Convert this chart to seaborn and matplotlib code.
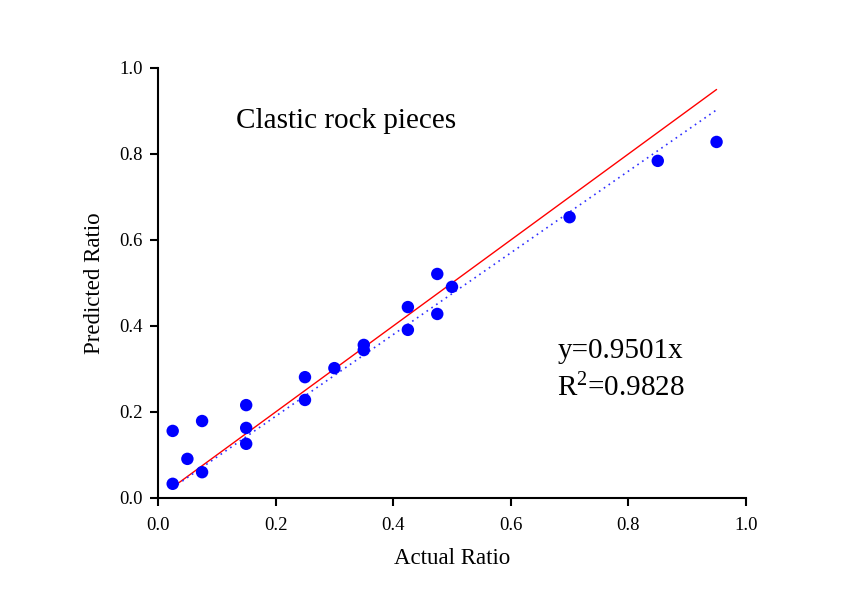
import matplotlib
matplotlib.use("Agg")
import matplotlib.pyplot as plt
import seaborn as sns
import numpy as np
import pandas as pd

actual = [0.025, 0.025, 0.05, 0.075, 0.075, 0.15, 0.15, 0.15, 0.25, 0.25, 0.30,
          0.35, 0.35, 0.425, 0.425, 0.475, 0.475, 0.50, 0.70, 0.85, 0.95]
predicted = [0.156, 0.033, 0.091, 0.179, 0.060, 0.216, 0.163, 0.126, 0.281, 0.228, 0.302,
             0.356, 0.344, 0.444, 0.391, 0.521, 0.428, 0.491, 0.653, 0.784, 0.828]
slope = 0.9501
r2 = 0.9828
ticks = [0.0, 0.2, 0.4, 0.6, 0.8, 1.0]

sns.set_style("ticks")
plt.rcParams['font.family'] = ['Liberation Serif', 'DejaVu Serif']
plt.rcParams['text.color'] = 'black'
plt.rcParams['axes.labelcolor'] = 'black'
plt.rcParams['mathtext.fontset'] = 'custom'
plt.rcParams['mathtext.rm'] = 'Liberation Serif'
plt.rcParams['mathtext.it'] = 'Liberation Serif:italic'

fig = plt.figure(figsize=(8.54, 6.0), dpi=100)
ax = fig.add_axes([0.185, 0.17, 0.6885, 0.7167])

df = pd.DataFrame({"Actual Ratio": actual, "Predicted Ratio": predicted})
xr = np.array([min(actual), max(actual)])
lines = pd.DataFrame({"x": xr, "ideal": xr, "fit": slope * xr})

sns.lineplot(data=lines, x="x", y="ideal", ax=ax, color="#ff0000", lw=1.0)
sns.lineplot(data=lines, x="x", y="fit", ax=ax, color="#3030ff", lw=1.2, linestyle=(0, (1, 2.5)))
sns.scatterplot(data=df, x="Actual Ratio", y="Predicted Ratio", ax=ax, color="#0000ff",
                s=80, edgecolor="none", zorder=3)

ax.set_xlim(0, 1.0)
ax.set_ylim(0, 1.0)
ax.set_xticks(ticks)
ax.set_yticks(ticks)
ax.set_xticklabels([f"{t:.1f}" for t in ticks])
ax.set_yticklabels([f"{t:.1f}" for t in ticks])
ax.tick_params(direction="out", length=6, width=1.5, labelsize=13.5, color="black", labelcolor="black")
ax.tick_params(axis="x", pad=8)
ax.tick_params(axis="y", pad=5)
for s in ["left", "bottom"]:
    ax.spines[s].set_linewidth(1.5)
    ax.spines[s].set_color("black")
sns.despine(ax=ax)
ax.set_xlabel("Actual Ratio", fontsize=16.5, labelpad=10)
ax.set_ylabel("Predicted Ratio", fontsize=16.5, labelpad=10)

ax.text(0.133, 0.877, "Clastic rock pieces", fontsize=21, va="center", ha="left")
ax.text(0.679, 0.342, f"y={slope:.4f}x", fontsize=21, va="center", ha="left")
ax.text(0.679, 0.256, r"R$^{\mathregular{2}}$" + f"={r2:.4f}", fontsize=21, va="center", ha="left")

fig.savefig("out.png", dpi=100)
